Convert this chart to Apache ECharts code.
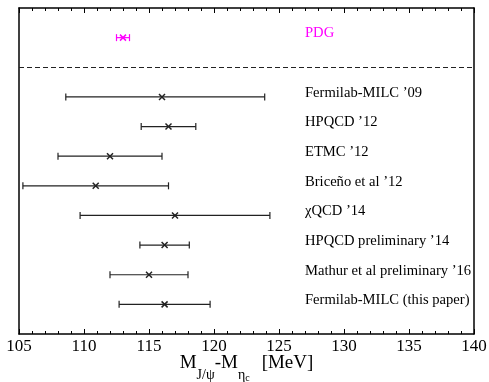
<!DOCTYPE html>
<html>
<head>
<meta charset="utf-8">
<script src="https://cdn.jsdelivr.net/npm/echarts@6/dist/echarts.min.js"></script>
<style>
  html, body { margin: 0; padding: 0; background: #fff; }
  #chart { width: 489px; height: 382px; }
</style>
</head>
<body>
<div id="chart"></div>
<script>
// top to bottom; first entry is the PDG reference value
const labels = [
  'PDG',
  'Fermilab-MILC \u201909',
  'HPQCD \u201912',
  'ETMC \u201912',
  'Brice\u00f1o et al \u201912',
  '\u03c7QCD \u201914',
  'HPQCD preliminary \u201914',
  'Mathur et al preliminary \u201916',
  'Fermilab-MILC (this paper)'
]
const centers = [113.0, 116.0, 116.5, 112.0, 110.9, 117.0, 116.2, 115.0, 116.2]
const lows = [112.5, 108.6, 114.4, 108.0, 105.3, 109.7, 114.3, 112.0, 112.7]
const highs = [113.5, 123.9, 118.6, 116.0, 116.5, 124.3, 118.1, 118.0, 119.7]
const xTicks = [105, 110, 115, 120, 125, 130, 135, 140]

const FONT = '"Liberation Serif", "DejaVu Serif", serif'
const N = labels.length - 1 // lattice results
const LABEL_X = 127

// row index on the hidden y axis: lattice results 1..N, dashed line N+1, PDG N+2
const data = labels.map((name, i) => {
  const row = i === 0 ? N + 2 : N + 1 - i
  return [lows[i], centers[i], highs[i], row, i]
})

const renderItem = function (params, api) {
  const i = api.value(4)
  const row = api.value(3)
  const lo = api.coord([api.value(0), row])
  const c = api.coord([api.value(1), row])
  const hi = api.coord([api.value(2), row])
  const lab = api.coord([LABEL_X, row])
  const color = i === 0 ? '#ff00ff' : '#222'
  const cap = 3.5
  const m = 3
  const line = (x1, y1, x2, y2, w) => ({
    type: 'line',
    shape: { x1, y1, x2, y2 },
    style: { stroke: color, lineWidth: w || 1.2 }
  })
  return {
    type: 'group',
    children: [
      line(lo[0], lo[1], hi[0], hi[1]),
      line(lo[0], lo[1] - cap, lo[0], lo[1] + cap),
      line(hi[0], hi[1] - cap, hi[0], hi[1] + cap),
      line(c[0] - m, c[1] - m, c[0] + m, c[1] + m, 1.5),
      line(c[0] - m, c[1] + m, c[0] + m, c[1] - m, 1.5),
      {
        type: 'text',
        x: lab[0],
        y: lab[1] - 4,
        style: {
          text: labels[i],
          fill: i === 0 ? '#ff00ff' : '#000',
          font: '14.6px ' + FONT,
          align: 'left',
          verticalAlign: 'middle'
        }
      }
    ]
  }
}

const tickStyle = { color: '#000', width: 1 }

const option = {
  animation: false,
  grid: { left: 19, right: 15, top: 8, bottom: 48, containLabel: false, outerBoundsMode: 'none' },
  xAxis: [
    {
      type: 'value',
      position: 'bottom',
      min: xTicks[0],
      max: xTicks[xTicks.length - 1],
      interval: 5,
      splitLine: { show: false },
      axisLine: { show: true, onZero: false, lineStyle: { color: '#000', width: 1.5 } },
      axisTick: { show: true, inside: true, length: 5, lineStyle: tickStyle },
      minorTick: { show: true, splitNumber: 5, length: 3, lineStyle: tickStyle },
      axisLabel: { show: true, color: '#000', fontFamily: FONT, fontSize: 17, margin: 4 },
      name: '{m|M}{s|J/\u03c8}{m|-M}{s|\u03b7}{ss|c}{m|[MeV]}',
      nameLocation: 'middle',
      nameGap: 20,
      nameMoveOverlap: false,
      nameTextStyle: {
        color: '#000',
        rich: {
          m: { fontFamily: FONT, fontSize: 19, color: '#000', verticalAlign: 'top', lineHeight: 26 },
          s: { fontFamily: FONT, fontSize: 14, color: '#000', verticalAlign: 'top', padding: [14, 0, 0, 0], lineHeight: 26 },
          ss: { fontFamily: FONT, fontSize: 10, color: '#000', verticalAlign: 'top', padding: [19, 12, 0, 0], lineHeight: 26 }
        }
      }
    },
    {
      type: 'value',
      position: 'top',
      min: xTicks[0],
      max: xTicks[xTicks.length - 1],
      interval: 5,
      splitLine: { show: false },
      axisLine: { show: true, onZero: false, lineStyle: { color: '#000', width: 1.5 } },
      axisTick: { show: true, inside: true, length: 5, lineStyle: tickStyle },
      minorTick: { show: true, splitNumber: 5, length: 3, lineStyle: tickStyle },
      axisLabel: { show: false }
    }
  ],
  yAxis: [
    {
      type: 'value', min: 0, max: N + 3, position: 'left',
      axisLine: { show: true, lineStyle: { color: '#000', width: 1.5 } },
      axisTick: { show: false }, axisLabel: { show: false }, splitLine: { show: false }
    },
    {
      type: 'value', min: 0, max: N + 3, position: 'right',
      axisLine: { show: true, lineStyle: { color: '#000', width: 1.5 } },
      axisTick: { show: false }, axisLabel: { show: false }, splitLine: { show: false }
    }
  ],
  series: [
    {
      type: 'custom',
      renderItem,
      encode: { x: [0, 1, 2], y: 3 },
      data,
      markLine: {
        silent: true,
        symbol: 'none',
        label: { show: false },
        lineStyle: { color: '#222', width: 1, type: [5, 3] },
        data: [{ yAxis: N + 1 }]
      }
    }
  ]
}

const myChart = echarts.init(document.getElementById('chart'))
myChart.setOption(option)
window.addEventListener('resize', () => {
  myChart.resize()
})
</script>
</body>
</html>
